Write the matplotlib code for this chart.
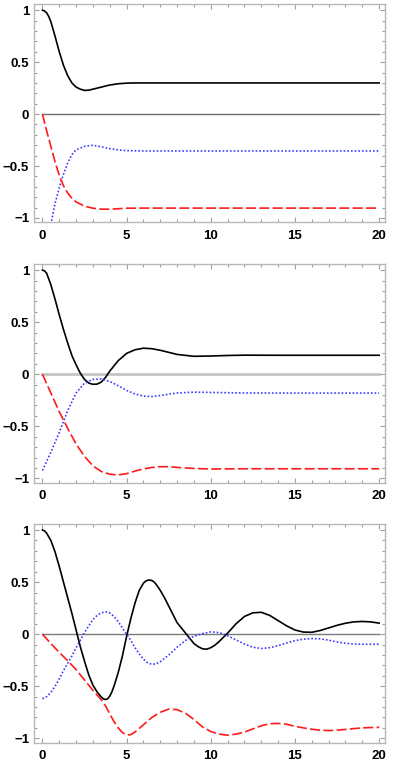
import numpy as np
import matplotlib.pyplot as plt
from matplotlib.ticker import MultipleLocator, FuncFormatter

# ---- panel 1 ----
p1_black_x = [0, 0.125, 0.25, 0.375, 0.5, 0.75, 1.0, 1.25, 1.5, 1.75, 2.0, 2.25, 2.5, 2.75, 3.0, 3.5, 4.0, 4.5, 5.0, 5.5, 6, 8, 10, 12, 14, 16, 18, 20]
p1_black_y = [1.0, 0.993, 0.975, 0.94, 0.89, 0.75, 0.60, 0.47, 0.37, 0.30, 0.26, 0.24, 0.228, 0.23, 0.24, 0.26, 0.28, 0.292, 0.298, 0.30, 0.30, 0.30, 0.30, 0.30, 0.30, 0.30, 0.30, 0.30]
p1_red_x = [0, 0.25, 0.5, 0.75, 1.0, 1.25, 1.5, 1.75, 2.0, 2.5, 3.0, 3.5, 4.0, 5.0, 6.0, 8, 10, 12, 14, 16, 18, 20]
p1_red_y = [0, -0.16, -0.31, -0.46, -0.59, -0.69, -0.76, -0.81, -0.845, -0.887, -0.906, -0.915, -0.916, -0.906, -0.905, -0.905, -0.905, -0.905, -0.905, -0.905, -0.905, -0.905]
p1_blue_x = [0, 0.25, 0.5, 0.75, 1.0, 1.25, 1.5, 1.75, 2.0, 2.5, 3.0, 3.5, 4.0, 4.5, 5.0, 6.0, 8, 10, 12, 14, 16, 18, 20]
p1_blue_y = [-1.55, -1.30, -1.06, -0.86, -0.71, -0.58, -0.47, -0.39, -0.345, -0.31, -0.30, -0.315, -0.333, -0.345, -0.352, -0.355, -0.355, -0.355, -0.355, -0.355, -0.355, -0.355, -0.355]

# ---- panel 2 ----
p2_black_x = [0, 0.125, 0.25, 0.5, 0.75, 1.0, 1.25, 1.5, 1.75, 2.0, 2.25, 2.5, 2.75, 3.0, 3.25, 3.5, 3.75, 4.0, 4.5, 5.0, 5.5, 6.0, 6.5, 7.0, 7.5, 8.0, 9, 10, 11, 12, 14, 16, 18, 20]
p2_black_y = [1.0, 0.992, 0.97, 0.86, 0.72, 0.57, 0.43, 0.30, 0.18, 0.09, 0.01, -0.05, -0.085, -0.097, -0.095, -0.075, -0.03, 0.03, 0.13, 0.2, 0.235, 0.25, 0.245, 0.23, 0.21, 0.19, 0.172, 0.175, 0.18, 0.183, 0.182, 0.182, 0.182, 0.182]
p2_blue_x = [0, 0.5, 1.0, 1.5, 2.0, 2.5, 3.0, 3.5, 4.0, 4.5, 5.0, 5.5, 6.0, 6.5, 7.0, 7.5, 8.0, 9, 10, 12, 14, 16, 18, 20]
p2_blue_y = [-0.925, -0.75, -0.56, -0.35, -0.18, -0.085, -0.05, -0.045, -0.07, -0.11, -0.155, -0.19, -0.21, -0.215, -0.205, -0.192, -0.18, -0.172, -0.175, -0.18, -0.181, -0.181, -0.181, -0.181]
p2_red_x = [0, 0.5, 1.0, 1.5, 2.0, 2.5, 3.0, 3.5, 4.0, 4.5, 5.0, 5.5, 6.0, 6.5, 7.0, 7.5, 8.0, 9, 10, 12, 14, 16, 18, 20]
p2_red_y = [0, -0.18, -0.36, -0.52, -0.67, -0.79, -0.88, -0.935, -0.96, -0.967, -0.955, -0.93, -0.91, -0.895, -0.888, -0.888, -0.895, -0.905, -0.91, -0.908, -0.908, -0.908, -0.908, -0.908]

# ---- panel 3 ----
p3_black_x = [0, 0.125, 0.25, 0.5, 0.75, 1.0, 1.25, 1.5, 1.75, 2.0, 2.25, 2.5, 2.75, 3.0, 3.25, 3.5, 3.625, 3.75, 3.875, 4.0, 4.125, 4.25, 4.5, 4.75,
              5.0, 5.25, 5.5, 5.75, 6.0, 6.125, 6.25, 6.375, 6.5, 6.625, 6.75, 7.0, 7.25, 7.5, 7.75, 8.0, 8.5, 9.0, 9.25, 9.5, 9.75, 10.0, 10.25, 10.5, 11.0, 11.5,
              12.0, 12.5, 13.0, 13.5, 14.0, 14.5, 15.0, 15.5, 16.0, 16.5, 17.0, 17.5, 18.0, 18.5, 19.0, 19.5, 20.0]
p3_black_y = [1.0, 0.992, 0.97, 0.90, 0.79, 0.65, 0.50, 0.35, 0.20, 0.04, -0.12, -0.26, -0.39, -0.49, -0.555, -0.605, -0.622, -0.628, -0.62, -0.595, -0.555, -0.50, -0.37, -0.21,
              -0.02, 0.15, 0.30, 0.42, 0.49, 0.508, 0.518, 0.52, 0.515, 0.502, 0.48, 0.42, 0.35, 0.27, 0.19, 0.11, 0.01, -0.09, -0.12, -0.14, -0.145, -0.13, -0.105, -0.07, 0.01, 0.10,
              0.17, 0.205, 0.21, 0.18, 0.13, 0.08, 0.04, 0.02, 0.018, 0.035, 0.06, 0.085, 0.105, 0.118, 0.122, 0.118, 0.106]
p3_blue_x = [0, 0.25, 0.5, 0.75, 1.0, 1.25, 1.5, 1.75, 2.0, 2.25, 2.5, 2.75, 3.0, 3.25, 3.5, 3.75, 4.0, 4.25, 4.5, 4.75,
             5.0, 5.25, 5.5, 5.75, 6.0, 6.25, 6.5, 6.75, 7.0, 7.5, 8.0, 8.5, 9.0, 9.5, 10.0, 10.5, 11.0, 11.5, 12.0, 12.5,
             13.0, 13.5, 14.0, 14.5, 15.0, 15.5, 16.0, 16.5, 17.0, 17.5, 18.0, 18.5, 19.0, 19.5, 20.0]
p3_blue_y = [-0.62, -0.6, -0.56, -0.5, -0.43, -0.35, -0.28, -0.21, -0.13, -0.06, 0.015, 0.08, 0.14, 0.18, 0.205, 0.215, 0.205, 0.17, 0.12, 0.06,
             0.0, -0.06, -0.13, -0.19, -0.24, -0.275, -0.29, -0.285, -0.265, -0.2, -0.125, -0.06, -0.02, 0.005, 0.022, 0.015, -0.015, -0.055, -0.095, -0.125,
             -0.138, -0.13, -0.11, -0.085, -0.062, -0.048, -0.042, -0.045, -0.058, -0.075, -0.088, -0.095, -0.097, -0.097, -0.096]
p3_red_x = [0, 0.5, 1.0, 1.5, 2.0, 2.5, 3.0, 3.5, 3.75, 4.0, 4.25, 4.5, 4.75, 5.0, 5.25, 5.5, 5.75, 6.0, 6.5, 7.0, 7.5, 8.0, 8.5,
            9.0, 9.5, 10.0, 10.5, 11.0, 11.5, 12.0, 12.5, 13.0, 13.5, 14.0, 14.5, 15.0, 15.5, 16.0, 16.5, 17.0, 17.5, 18.0, 18.5, 19.0, 19.5, 20.0]
p3_red_y = [0, -0.09, -0.175, -0.255, -0.34, -0.44, -0.54, -0.63, -0.69, -0.765, -0.84, -0.9, -0.945, -0.968, -0.965, -0.94, -0.905, -0.87, -0.8, -0.75, -0.72, -0.725, -0.76,
            -0.82, -0.89, -0.935, -0.96, -0.97, -0.96, -0.94, -0.91, -0.88, -0.86, -0.857, -0.865, -0.885, -0.9, -0.913, -0.922, -0.926, -0.922, -0.915, -0.907, -0.9, -0.897, -0.895]

zero_x = [0, 20]
zero_y = [0, 0]

panels = [
    (p1_black_x, p1_black_y, p1_blue_x, p1_blue_y, p1_red_x, p1_red_y, '#6e6e6e', 1.0),
    (p2_black_x, p2_black_y, p2_blue_x, p2_blue_y, p2_red_x, p2_red_y, '#c4c4c4', 2.0),
    (p3_black_x, p3_black_y, p3_blue_x, p3_blue_y, p3_red_x, p3_red_y, '#7a7a7a', 1.0),
]

plt.rcParams['font.family'] = 'Liberation Sans'
plt.rcParams['font.weight'] = 'bold'

fig = plt.figure(figsize=(3.94, 7.67), dpi=100)
boxes = [(0.0863, 0.7100, 0.891, 0.2848),
         (0.0863, 0.3705, 0.891, 0.2855),
         (0.0863, 0.0316, 0.891, 0.2855)]

fmt = FuncFormatter(lambda v, p: ('%g' % v).replace('-', '\u2212'))

for box, (bx, by, ux, uy, rx, ry, zc, zw) in zip(boxes, panels):
    ax = fig.add_axes(box)
    ax.plot(zero_x, zero_y, color=zc, lw=zw)
    ax.plot(bx, by, color='black', lw=1.2)
    ax.plot(ux, uy, color='#3c3cff', lw=1.2, dashes=(1, 1.2))
    ax.plot(rx, ry, color='#ff1a1a', lw=1.2, dashes=(6, 2))
    ax.set_xlim(-0.5, 20.35)
    ax.set_ylim(-1.043, 1.06)
    for s in ax.spines.values():
        s.set_color('#b8b8b8')
        s.set_linewidth(1.0)
    ax.xaxis.set_major_locator(MultipleLocator(5))
    ax.xaxis.set_minor_locator(MultipleLocator(1))
    ax.yaxis.set_major_locator(MultipleLocator(0.5))
    ax.yaxis.set_minor_locator(MultipleLocator(0.1))
    ax.yaxis.set_major_formatter(fmt)
    ax.xaxis.set_major_formatter(fmt)
    ax.tick_params(which='both', direction='in', top=True, right=True, color='#a0a0a0', width=0.8)
    ax.tick_params(which='major', length=3.5)
    ax.tick_params(which='minor', length=2)
    ax.tick_params(axis='x', which='major', pad=5.5, labelsize=9.5)
    ax.tick_params(axis='y', which='major', pad=3.5, labelsize=9.5)

fig.savefig('out.png', dpi=100)
